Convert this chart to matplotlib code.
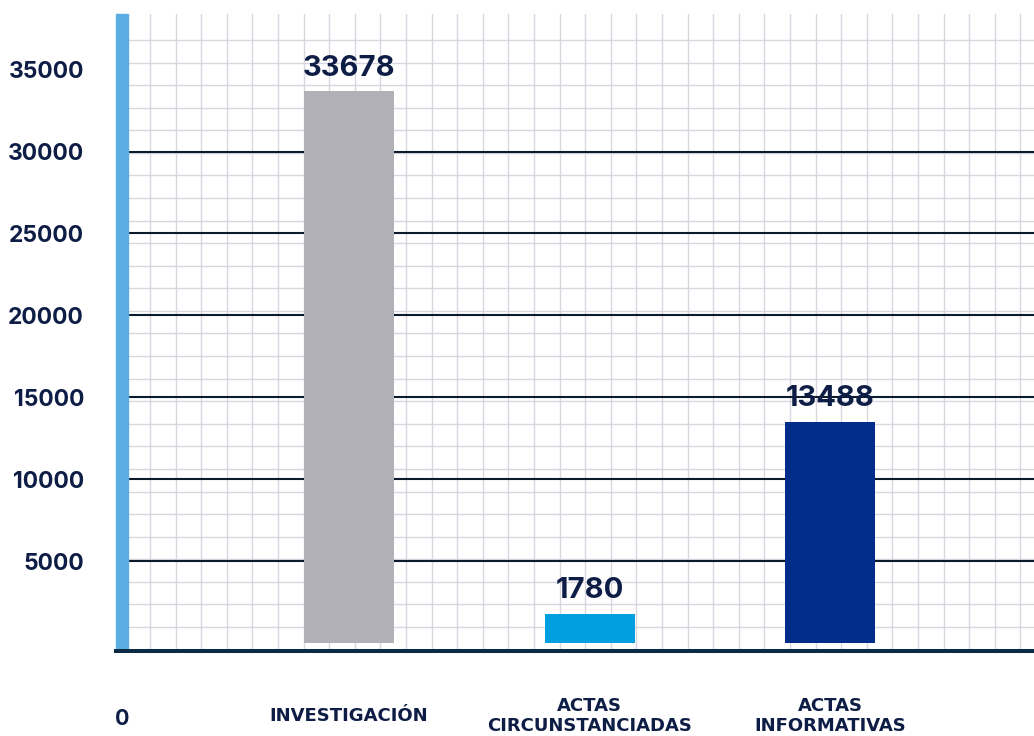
import matplotlib
matplotlib.use("Agg")
import matplotlib.pyplot as plt
from matplotlib.patches import Rectangle

# ---- data ----
categories = ["INVESTIGACIÓN", "ACTAS\nCIRCUNSTANCIADAS", "ACTAS\nINFORMATIVAS"]
values = [33678, 1780, 13488]
bar_colors = ["#b1b0b6", "#00a0e0", "#002c8a"]
y_ticks = [5000, 10000, 15000, 20000, 25000, 30000, 35000]
y_tick_labels = ["5000", "10000", "15000", "20000", "25000", "30000", "35000"]
zero_label = "0"

TEXT = "#0d1d45"
plt.rcParams["font.family"] = ["Inter", "DejaVu Sans"]

W, H = 1034, 736
fig = plt.figure(figsize=(W / 100, H / 100), dpi=100)
rect = [116 / W, 85 / H, 918 / W, 637 / H]

# background squared-paper grid
bg = fig.add_axes(rect, zorder=0)
bg.set_xlim(-34 / 25.6, (1034 - 150) / 25.6)
bg.set_ylim(-24 / 22.58, 637 / 22.58 - 24 / 22.58)
bg.set_xticks(range(0, 35))
bg.set_yticks(range(0, 27))
bg.grid(True, color="#d9d6e0", lw=1.0)
bg.tick_params(length=0, labelbottom=False, labelleft=False)
for s in bg.spines.values():
    s.set_visible(False)

ax = fig.add_axes(rect, zorder=1)
ax.patch.set_alpha(0)
x = list(range(len(categories)))
bars = ax.bar(x, values, width=0.374, color=bar_colors, zorder=2)
ax.set_xlim(-0.969, 2.848)
ax.set_ylim(-490, 38400)

ax.bar_label(bars, labels=[str(v) for v in values], padding=7,
             fontsize=21, fontweight="bold", color=TEXT)

ax.set_yticks(y_ticks, y_tick_labels)
ax.set_axisbelow(True)
ax.yaxis.grid(True, color="#0c1b2b", lw=1.5)
ax.get_ygridlines()[-1].set_visible(False)
ax.tick_params(axis="y", length=0, pad=23, labelsize=16.5, labelcolor=TEXT)
for lbl in ax.get_yticklabels():
    lbl.set_fontweight("bold")

ax.set_xticks(x, categories)
ax.tick_params(axis="x", length=0, pad=47, labelsize=13, labelcolor=TEXT)
for lbl in ax.get_xticklabels():
    lbl.set_family(["DejaVu Sans"])
    lbl.set_fontweight("bold")
    lbl.set_va("center")
    lbl.set_linespacing(1.15)

for side in ["top", "right", "left"]:
    ax.spines[side].set_visible(False)
ax.spines["bottom"].set_color("#0b2a44")
ax.spines["bottom"].set_linewidth(2.9)
ax.spines["bottom"].set_zorder(5)

ax.add_patch(Rectangle((0, 0), 12 / 918, 1, transform=ax.transAxes,
                       color="#5aaee2", zorder=4, clip_on=False))

fig.text(115 / W, 1 - 719 / H, zero_label, ha="left", va="center",
         fontsize=15.5, fontweight="bold", color=TEXT)

fig.savefig("out.png", dpi=100)
